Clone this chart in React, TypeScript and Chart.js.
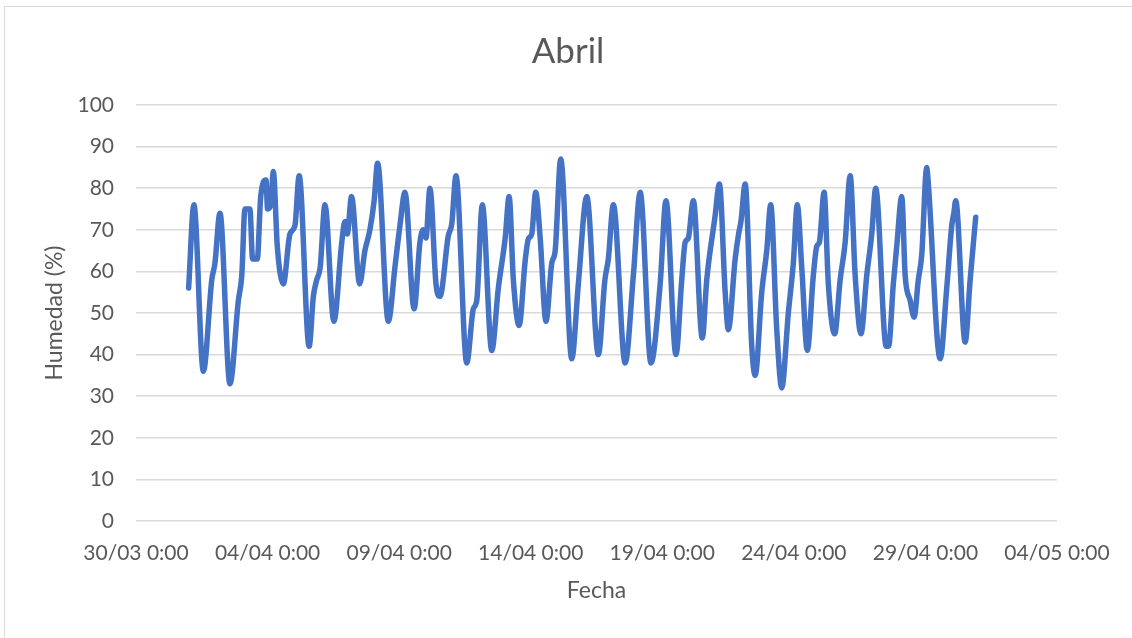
import React, { useEffect, useRef } from "react";
import { Chart, registerables } from "chart.js";

Chart.register(...registerables);

// Days since 30/03 0:00
const dayOffsets: number[] = [
  2.0, 2.2, 2.56, 2.88, 3.0, 3.19, 3.57, 3.89, 4.02, 4.14, 4.33, 4.43, 4.61, 4.74, 4.94, 5.0, 5.12, 5.22,
  5.37, 5.6, 5.85, 6.04, 6.2, 6.58, 6.74, 6.87, 7.0, 7.18, 7.52, 7.82, 7.94, 8.03, 8.19, 8.5, 8.7, 8.89,
  9.05, 9.18, 9.59, 9.84, 10.03, 10.22, 10.57, 10.79, 10.92, 11.02, 11.17, 11.4, 11.55, 11.87, 12.0, 12.16,
  12.57, 12.82, 12.95, 13.16, 13.52, 13.77, 14.03, 14.18, 14.34, 14.56, 14.79, 14.91, 15.04, 15.19, 15.36,
  15.58, 15.8, 15.93, 16.14, 16.56, 16.81, 17.13, 17.57, 17.82, 17.95, 18.14, 18.59, 18.9, 19.16, 19.57,
  19.92, 20.14, 20.52, 20.74, 20.87, 20.99, 21.18, 21.52, 21.69, 22.0, 22.17, 22.39, 22.51, 22.77, 22.9,
  22.99, 23.15, 23.4, 23.53, 23.78, 23.97, 24.12, 24.35, 24.54, 24.79, 24.98, 25.13, 25.3, 25.51, 25.74,
  25.87, 25.97, 26.15, 26.31, 26.55, 26.76, 26.95, 27.14, 27.33, 27.55, 27.77, 27.96, 28.11, 28.51, 28.6,
  28.78, 28.91, 29.1, 29.23, 29.42, 29.57, 29.73, 29.86, 30.05, 30.1, 30.56, 30.81, 31.0, 31.08, 31.15,
  31.51, 31.7, 31.91,
];

const humidity: number[] = [
  56, 76, 36, 58, 62, 74, 33, 53, 59, 75, 75, 63, 63, 78, 82, 75, 76, 84,
  66, 57, 69, 71, 83, 42, 54, 58, 61, 76, 48, 67, 72, 69, 78, 57, 65, 70,
  77, 86, 48, 61, 71, 79, 51, 67, 70, 68, 80, 57, 54, 68.6, 71.4, 83,
  38, 51, 53, 76, 41, 56, 68, 78, 58, 47, 62.6, 67.8, 69, 79, 68,
  48, 62, 65, 87, 39, 57, 78, 40, 58, 63, 76, 38, 59, 79, 38,
  57, 77, 40, 58, 67, 68, 77, 44, 58, 73, 81, 55, 46, 63, 69,
  72, 81, 42, 35, 55, 65, 76, 46, 32, 50, 62, 76, 61, 41, 59,
  66, 67, 79, 57, 45, 58, 67, 83, 59, 45, 59, 69, 80, 42, 42,
  57, 66, 78, 59, 53, 49, 58, 64, 85, 82, 39, 56, 71, 74, 77,
  43, 58, 73,
];

const xTickLabels: string[] = [
  "30/03 0:00", "04/04 0:00", "09/04 0:00", "14/04 0:00",
  "19/04 0:00", "24/04 0:00", "29/04 0:00", "04/05 0:00",
];

const chartTitle = "Abril";
const xTitle = "Fecha";
const yTitle = "Humedad (%)";
const seriesName = "Humedad";

const FONT = "Lato";
const TEXT = "#595959";
const GRID = "#d9d9d9";
const LINE = "#4472C4";

export default function App() {
  const ref = useRef<HTMLCanvasElement | null>(null);

  useEffect(() => {
    if (!ref.current) return;
    const points = dayOffsets.map((d, i) => ({ x: d, y: humidity[i] }));
    const chart = new Chart(ref.current, {
      type: "line",
      data: {
        datasets: [
          {
            label: seriesName,
            data: points,
            borderColor: LINE,
            backgroundColor: LINE,
            borderWidth: 5.5,
            pointRadius: 0,
            cubicInterpolationMode: "monotone",
            borderJoinStyle: "round",
            borderCapStyle: "round",
            fill: false,
          },
        ],
      },
      options: {
        responsive: false,
        animation: false,
        layout: { padding: { top: 0, left: 4, right: 0, bottom: 0 } },
        plugins: {
          legend: { display: false },
          tooltip: { enabled: false },
          title: {
            display: true,
            text: chartTitle,
            color: TEXT,
            font: { family: FONT, size: 35, weight: "normal", lineHeight: 1.2 },
            padding: { top: 30.5, bottom: 32.5 },
          },
        },
        scales: {
          x: {
            type: "linear",
            min: 0,
            max: 35,
            grid: { display: false },
            border: { display: false },
            ticks: {
              stepSize: 5,
              autoSkip: false,
              maxRotation: 0,
              padding: 12,
              color: TEXT,
              font: { family: FONT, size: 21 },
              callback: (v: any) => xTickLabels[Math.round(Number(v) / 5)] ?? "",
            },
            title: {
              display: true,
              text: xTitle,
              color: TEXT,
              font: { family: FONT, size: 23, lineHeight: 1.2 },
              padding: { top: 0, bottom: 33.2 },
            },
            afterFit: (s: any) => {
              s.height = 117;
            },
          },
          y: {
            min: 0,
            max: 100,
            grid: { color: GRID, lineWidth: 1.5, drawTicks: false },
            border: { display: false },
            ticks: {
              stepSize: 10,
              padding: 22,
              color: TEXT,
              font: { family: FONT, size: 21 },
            },
            title: {
              display: true,
              text: yTitle,
              color: TEXT,
              font: { family: FONT, size: 23, lineHeight: 1.2 },
              padding: { top: 37.2, bottom: 0 },
            },
            afterFit: (s: any) => {
              s.width = 132;
            },
          },
          yRightSpace: {
            type: "linear",
            position: "right",
            display: true,
            grid: { display: false },
            border: { display: false },
            ticks: { display: false },
            afterFit: (s: any) => {
              s.width = 75;
            },
          },
        },
      },
    });
    return () => chart.destroy();
  }, []);

  return (
    <div style={{ position: "absolute", left: 0, top: 0, width: 1132, height: 638, background: "#fff" }}>
      <div
        style={{
          position: "absolute",
          left: 4,
          top: 6,
          width: 1128,
          height: 632,
          borderLeft: "1px solid #d9d9d9",
          borderTop: "1px solid #d9d9d9",
          boxSizing: "border-box",
        }}
      />
      <canvas ref={ref} width={1132} height={638} style={{ position: "absolute", left: 0, top: 0 }} />
    </div>
  );
}
